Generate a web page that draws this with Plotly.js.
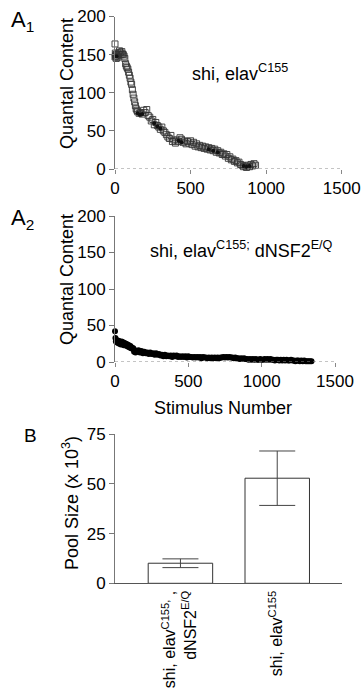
<!DOCTYPE html>
<html><head><meta charset="utf-8">
<script src="https://cdn.plot.ly/plotly-3.0.1.min.js"></script>
<style>html,body{margin:0;padding:0;background:#fff}#c{width:363px;height:700px}</style>
</head><body><div id="c"></div>
<script>
// Panel A1: shi, elav C155 (open squares)
const a1X = [0,0,2,4,5,8,10,12,15,20,25,30,35,40,45,50,55,60,65,70,75,80,85,90,95,100,105,110,115,120,125,130,135,140,145,150,160,170,180,190,200,210,220,230,240,250,260,270,280,290,300,310,320,330,340,350,360,370,380,390,400,410,420,430,440,450,460,470,480,490,500,510,520,530,540,550,560,570,580,590,600,610,620,630,640,650,660,670,680,690,700,710,720,730,740,750,760,770,780,790,800,810,820,830,840,850,860,870,880,890,900,910,920,930];
const a1Y = [164,147,152,148,150,145,150,148,146,152,150,155,153,150,154,151,150,148,145,138,135,133,131,127,123,119,114,111,104,98,93,88,83,79,77,75,73,74,72,77,74,78,70,68,63,65,58,61,57,55,52,55,50,48,45,42,40,44,36,38,34,38,36,41,39,35,37,33,36,34,37,32,35,30,33,29,31,28,30,27,29,26,28,25,27,24,26,22,24,21,22,19,20,17,19,14,16,12,13,10,11,8,9,6,5,3,4,2,5,3,6,4,7,5];
// A1 darker (filled) overlapping points
const a1DotX = [10,150,165,180,260,280,300,420,440,620,650,680,850,870,890];
const a1DotY = [148,73,71,72,60,56,53,37,35,26,24,22,4,3,4];
// Panel A2: shi, elav C155; dNSF2 E/Q (filled circles)
const a2X = [0,3,6,10,15,20,25,30,35,40,45,50,55,60,65,70,75,80,85,90,95,100,105,110,115,120,125,130,135,140,145,150,160,170,180,190,200,210,220,230,240,250,260,270,280,290,300,310,320,330,340,350,360,370,380,390,400,410,420,430,440,450,460,470,480,490,500,510,520,530,540,550,560,570,580,590,600,610,620,630,640,650,660,670,680,690,700,710,720,730,740,750,760,770,780,790,800,810,820,830,840,850,860,870,880,890,900,910,920,930,940,950,960,970,980,990,1000,1010,1020,1030,1040,1050,1060,1070,1080,1090,1100,1110,1120,1130,1140,1150,1160,1170,1180,1190,1200,1210,1220,1230,1240,1250,1260,1270,1280,1290,1300,1310,1320,1330,1340];
const a2Y = [42,33,28,30,27,26,29,25,27,24,28,25,27,23,26,24,25,22,24,21,23,20,22,19,20,18,19,14,16,13,15,14,16,13,15,12,14,12,13,11,13,11,12,10,12,10,11,9,10,8,10,8,9,8,9,7,9,8,9,7,8,7,8,7,8,6,8,7,7,6,7,6,7,6,7,5,7,6,6,5,6,5,6,5,6,5,6,5,6,6,7,6,7,6,7,6,6,5,6,5,5,4,5,4,5,4,4,3,4,3,4,3,4,3,3,4,3,3,4,3,4,3,4,3,3,2,3,3,2,3,2,3,2,3,2,2,3,2,2,1,2,2,1,2,1,2,1,1,1,1,1];
// Panel B: pool size
const bCats = ["shi, elav<sup>C155,</sup> ,<br>dNSF2<sup>E/Q</sup>", "shi, elav<sup>C155</sup>"];
const bVals = [10.1, 52.9];
const bErr = [2.2, 13.7];

const FONT = "Liberation Sans, Arial, Helvetica, sans-serif";
const W = 363, H = 700;
const px = v => v / W, py = v => (H - v) / H;

const traces = [
  {x: a1X, y: a1Y, xaxis: 'x', yaxis: 'y', type: 'scatter', mode: 'markers', cliponaxis: false,
   marker: {symbol: 'square-open', size: 6, color: '#333', line: {width: 0.9, color: '#333'}}},
  {x: a1DotX, y: a1DotY, xaxis: 'x', yaxis: 'y', type: 'scatter', mode: 'markers', cliponaxis: false,
   marker: {symbol: 'circle', size: 4, color: '#111'}},
  {x: a2X, y: a2Y, xaxis: 'x2', yaxis: 'y2', type: 'scatter', mode: 'markers', cliponaxis: false,
   marker: {symbol: 'circle', size: 6, color: '#000'}},
  {x: bCats, y: bVals, xaxis: 'x3', yaxis: 'y3', type: 'bar', width: 0.666,
   marker: {color: '#fff', line: {color: '#333', width: 1}},
   error_y: {type: 'data', array: bErr, visible: true, color: '#444', thickness: 1, width: 18}}
];

const tickF = {family: FONT, size: 17, color: '#000'};
const yCommon = {showline: true, linecolor: '#777', linewidth: 1, ticks: 'outside', ticklen: 5, tickcolor: '#777',
  showgrid: false, zeroline: false, tickfont: tickF, fixedrange: true};
const xCommon = {showline: false, ticks: 'outside', ticklen: 4, tickcolor: '#888',
  showgrid: false, zeroline: false, tickfont: tickF, fixedrange: true};

function ann(text, x, y, size, extra) {
  return Object.assign({text: text, x: px(x), y: py(y), xref: 'paper', yref: 'paper', showarrow: false,
    xanchor: 'center', yanchor: 'middle', font: {family: FONT, size: size, color: '#000'}}, extra || {});
}

const layout = {
  width: W, height: H, margin: {l: 0, r: 0, t: 0, b: 0},
  paper_bgcolor: '#fff', plot_bgcolor: 'rgba(0,0,0,0)', showlegend: false,
  font: {family: FONT, color: '#000'},
  xaxis: Object.assign({}, xCommon, {domain: [px(115), px(341.7)], range: [0, 1500], tickvals: [0, 500, 1000, 1500], anchor: 'y'}),
  yaxis: Object.assign({}, yCommon, {domain: [py(169), py(16.5)], range: [0, 200], tickvals: [0, 50, 100, 150, 200], anchor: 'x'}),
  xaxis2: Object.assign({}, xCommon, {domain: [px(115), px(335)], range: [0, 1500], tickvals: [0, 500, 1000, 1500], anchor: 'y2'}),
  yaxis2: Object.assign({}, yCommon, {domain: [py(362), py(216)], range: [0, 200], tickvals: [0, 50, 100, 150, 200], anchor: 'x2'}),
  xaxis3: {domain: [px(115), px(341.7)], type: 'category', range: [-0.676, 1.666], anchor: 'y3',
    showline: true, linecolor: '#555', linewidth: 1, ticks: '', showgrid: false, zeroline: false,
    tickangle: -90, tickfont: {family: FONT, size: 16, color: '#000'}, fixedrange: true},
  yaxis3: Object.assign({}, yCommon, {domain: [py(583.3), py(434.3)], range: [0, 75], tickvals: [0, 25, 50, 75], anchor: 'x3'}),
  shapes: [
    {type: 'line', xref: 'x', yref: 'y', x0: 0, x1: 1500, y0: 0, y1: 0, line: {color: '#888', width: 1, dash: 'dot'}},
    {type: 'line', xref: 'x2', yref: 'y2', x0: 0, x1: 1500, y0: 0, y1: 0, line: {color: '#888', width: 1, dash: 'dot'}}
  ],
  annotations: [
    ann('A<sub>1</sub>', 22, 21, 22),
    ann('A<sub>2</sub>', 22, 219, 22),
    ann('B', 30, 435, 19),
    ann('Quantal Content', 67, 84, 18, {textangle: -90}),
    ann('Quantal Content', 67, 280, 18, {textangle: -90}),
    ann('Stimulus Number', 223, 408, 18),
    ann('Pool Size (x 10<sup>3</sup>)', 70, 503, 18, {textangle: -90}),
    ann('shi, elav<sup>C155</sup>', 190, 72, 18, {xanchor: 'left'}),
    ann('shi, elav<sup>C155;</sup> dNSF2<sup>E/Q</sup>', 148, 250, 18, {xanchor: 'left'})
  ]
};

Plotly.newPlot('c', traces, layout, {staticPlot: true, displayModeBar: false});
</script></body></html>
